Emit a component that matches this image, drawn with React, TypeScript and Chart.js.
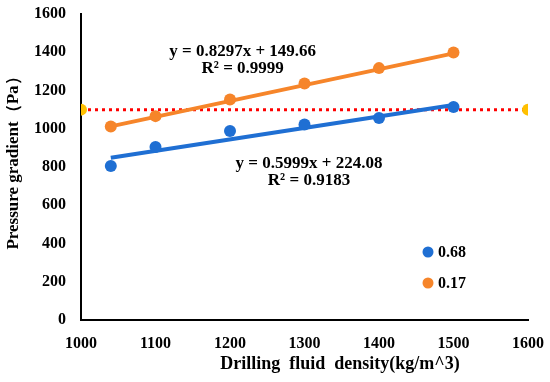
import React, { useEffect, useRef } from "react";
import { Chart, registerables } from "chart.js";

Chart.register(...registerables);

const densities = [1040, 1100, 1200, 1300, 1400, 1500];
const series068 = [805, 905, 988, 1022, 1056, 1114];
const series017 = [1012, 1066, 1153, 1237, 1317, 1399];
const fit068 = { slope: 0.5999, intercept: 224.08, r2: "0.9183" };
const fit017 = { slope: 0.8297, intercept: 149.66, r2: "0.9999" };
const refLineX = [1000, 1600];
const refLineY = 1100;
const xTicks = [1000, 1100, 1200, 1300, 1400, 1500, 1600];
const xTitle = "Drilling  fluid  density(kg/m^3)";
const yTitle = "Pressure gradient（Pa）";

const FONT = "'Liberation Serif', 'Times New Roman', serif";
const BLUE = "#1F6FD3";
const ORANGE = "#F6852A";

export default function App() {
  const ref = useRef<HTMLCanvasElement | null>(null);
  useEffect(() => {
    document.body.style.margin = "0";
    const ctx = ref.current!;
    const x0 = densities[0];
    const x1 = densities[densities.length - 1];

    const annot = {
      id: "annot",
      afterDatasetsDraw(chart: any) {
        const c = chart.ctx;
        const xs = chart.scales.x;
        const ys = chart.scales.y;
        c.save();
        c.fillStyle = "#000";
        c.font = `bold 17px ${FONT}`;
        c.textAlign = "center";
        c.textBaseline = "middle";
        c.fillText(`y = ${fit017.slope}x + ${fit017.intercept}`, xs.getPixelForValue(1217), ys.getPixelForValue(1405));
        c.fillText(`R² = ${fit017.r2}`, xs.getPixelForValue(1217), ys.getPixelForValue(1312));
        c.fillText(`y = ${fit068.slope}x + ${fit068.intercept}`, xs.getPixelForValue(1306), ys.getPixelForValue(818));
        c.fillText(`R² = ${fit068.r2}`, xs.getPixelForValue(1306), ys.getPixelForValue(728));
        // legend
        const items = [
          { label: "0.68", color: BLUE, y: 252 },
          { label: "0.17", color: ORANGE, y: 283 },
        ];
        c.textAlign = "left";
        c.font = `bold 16px ${FONT}`;
        items.forEach((it) => {
          c.beginPath();
          c.fillStyle = it.color;
          c.arc(428, it.y, 5.5, 0, Math.PI * 2);
          c.fill();
          c.fillStyle = "#000";
          c.fillText(it.label, 438, it.y + 1);
        });
        // axis titles
        c.font = `bold 18px ${FONT}`;
        c.textAlign = "center";
        c.fillText(xTitle, 340, 364);
        c.font = `bold 17px ${FONT}`;
        c.translate(14, 159);
        c.rotate(-Math.PI / 2);
        c.fillText(yTitle, 0, 0);
        c.restore();
      },
    };

    const chart = new Chart(ctx, {
      type: "scatter",
      data: {
        datasets: [
          {
            label: "ref",
            data: refLineX.map((x) => ({ x, y: refLineY })),
            showLine: true,
            borderColor: "#FF0000",
            borderWidth: 3,
            borderDash: [3, 4],
            pointRadius: 6,
            pointBackgroundColor: "#FFC000",
            pointBorderWidth: 0,
            order: 3,
          },
          {
            label: "fit068",
            data: [x0, x1].map((x) => ({ x, y: fit068.slope * x + fit068.intercept })),
            showLine: true,
            borderColor: BLUE,
            borderWidth: 4,
            pointRadius: 0,
            order: 2,
          },
          {
            label: "fit017",
            data: [x0, x1].map((x) => ({ x, y: fit017.slope * x + fit017.intercept })),
            showLine: true,
            borderColor: ORANGE,
            borderWidth: 4,
            pointRadius: 0,
            order: 2,
          },
          {
            label: "0.68",
            data: densities.map((x, i) => ({ x, y: series068[i] })),
            pointRadius: 6,
            pointBackgroundColor: BLUE,
            pointBorderWidth: 0,
            order: 1,
          },
          {
            label: "0.17",
            data: densities.map((x, i) => ({ x, y: series017[i] })),
            pointRadius: 6,
            pointBackgroundColor: ORANGE,
            pointBorderWidth: 0,
            order: 1,
          },
        ],
      },
      options: {
        animation: false,
        responsive: false,
        layout: { padding: { top: 14, right: 22, left: 0, bottom: 0 } },
        plugins: { legend: { display: false }, tooltip: { enabled: false } },
        scales: {
          x: {
            type: "linear",
            min: 1000,
            max: 1600,
            afterBuildTicks: (s: any) => {
              s.ticks = xTicks.map((v) => ({ value: v }));
            },
            grid: { display: false, drawTicks: false },
            border: { display: true, color: "#000", width: 2 },
            ticks: {
              color: "#000",
              font: { family: FONT, size: 16, weight: "bold" },
              padding: 14,
              maxRotation: 0,
              callback: (v: any) => String(v),
            },
            afterFit: (s: any) => {
              s.height = 62;
              s.paddingLeft = 0;
              s.paddingRight = 0;
            },
          },
          y: {
            min: 0,
            max: 1600,
            ticks: {
              stepSize: 200,
              color: "#000",
              font: { family: FONT, size: 16, weight: "bold" },
              padding: 15,
              callback: (v: any) => String(v),
            },
            grid: { display: false, drawTicks: false },
            border: { display: true, color: "#000", width: 2 },
            afterFit: (s: any) => {
              s.width = 81;
              s.paddingTop = 0;
              s.paddingBottom = 0;
            },
          },
        },
      } as any,
      plugins: [annot],
    });
    return () => chart.destroy();
  }, []);
  return (
    <div style={{ width: 550, height: 382, background: "#fff" }}>
      <canvas ref={ref} width={550} height={382} />
    </div>
  );
}
